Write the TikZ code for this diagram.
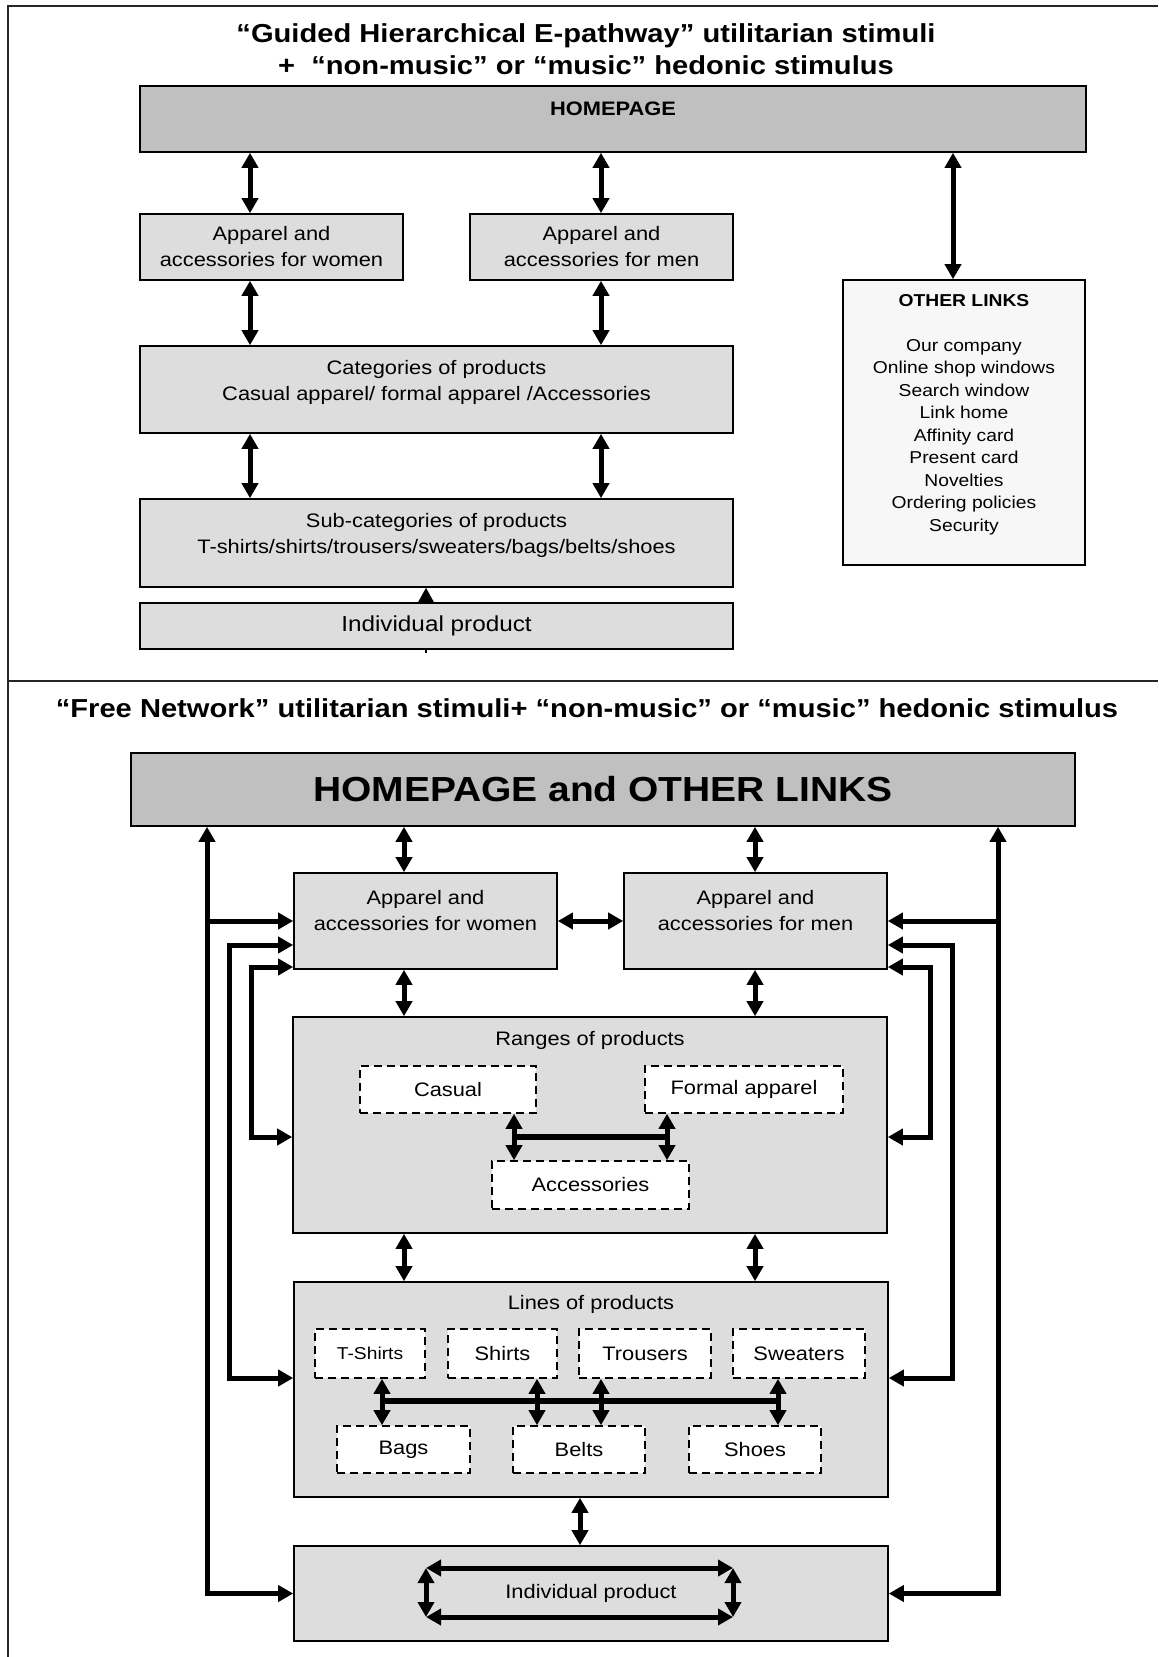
\documentclass[tikz,border=0pt]{standalone}
\usepackage{fontspec}
\setmainfont{Liberation Sans}[FakeStretch=1.12]
\usepackage{tikz}
\usetikzlibrary{arrows.meta}
\pgfdeclarelayer{bg}
\pgfsetlayers{bg,main}
\definecolor{homegray}{HTML}{C0C0C0}
\definecolor{boxgray}{HTML}{DDDDDD}
\definecolor{linkgray}{HTML}{F7F7F7}
\newcommand{\txtbody}{\fontsize{9.75}{13}\selectfont}
\newcommand{\txttitle}{\bfseries\fontsize{13}{16}\selectfont}
\newcommand{\txtlink}{\fontsize{8.6}{11.25}\selectfont}
\newcommand{\txtsmall}{\fontsize{8.6}{10}\selectfont}
\newcommand{\txtind}{\fontsize{10.85}{13}\selectfont}
\newcommand{\txthuge}{\bfseries\fontsize{17.4}{20}\selectfont}

\begin{document}
\begin{tikzpicture}[x=0.5pt, y=-0.5pt,
    every node/.style={font=\txtbody},
    box/.style={draw=black, line width=0.8pt, fill=boxgray, inner sep=0pt, align=center},
    homebox/.style={box, fill=homegray},
    dbox/.style={box, fill=white, dash pattern=on 4pt off 2.5pt},
    arr/.style={line width=2.5pt, arrows={Triangle[length=7.5pt,width=8pt]-Triangle[length=7.5pt,width=8pt]}},
    sgl/.style={line width=2.5pt, arrows={-Triangle[length=7.5pt,width=8pt]}},
    linkbar/.style={line width=3.2pt},
    pageline/.style={line width=0.9pt, draw=black!85}]
    \useasboundingbox (0,0) rectangle (1158,1657);
    \draw[pageline] (8,1657) -- (8,6) -- (1158,6);
    \draw[pageline] (8,681) -- (1158,681);

    \coordinate (c1) at (250,0);
    \coordinate (c2) at (601,0);
    \coordinate (c3) at (953,0);
    \coordinate (c4) at (426,0);
    \coordinate (stub) at (426,653);

    \node[font=\txttitle, align=center] (title1) at (586,49) {“Guided Hierarchical E-pathway” utilitarian stimuli\\+\ \ “non-music” or “music” hedonic stimulus};
    \node[homebox, minimum width=473pt, minimum height=33pt, label={[font=\bfseries\txtbody, yshift=5pt]center:HOMEPAGE}] (home1) at (613,119) {};
    \node[box, minimum width=131.5pt, minimum height=33pt] (women1) at (271.5,247) {Apparel and\\accessories for women};
    \node[box, minimum width=131.5pt, minimum height=33pt] (men1) at (601.5,247) {Apparel and\\accessories for men};
    \node[box, fill=linkgray, minimum width=121pt, minimum height=142.5pt, label={[font=\txtlink, align=center, yshift=4pt]center:{\textbf{OTHER LINKS}\\[11.25pt]Our company\\Online shop windows\\Search window\\Link home\\Affinity card\\Present card\\Novelties\\Ordering policies\\Security}}] (links1) at (964,422.5) {};
    \node[box, minimum width=296.5pt, minimum height=43.5pt, label={[align=center, yshift=3.75pt]center:{Categories of products\\Casual apparel/ formal apparel /Accessories}}] (cat1) at (436.5,389.5) {};
    \node[box, minimum width=296.5pt, minimum height=44pt, label={[align=center, yshift=3.75pt]center:{Sub-categories of products\\T-shirts/shirts/trousers/sweaters/bags/belts/shoes}}] (sub1) at (436.5,543) {};
    \node[box, font=\txtind, minimum width=296.5pt, minimum height=23pt] (ind1) at (436.5,626) {Individual product};

    \draw[arr] (c1 |- home1.south) -- (c1 |- women1.north);
    \draw[arr] (c2 |- home1.south) -- (c2 |- men1.north);
    \draw[arr] (c3 |- home1.south) -- (c3 |- links1.north);
    \draw[arr] (c1 |- women1.south) -- (c1 |- cat1.north);
    \draw[arr] (c2 |- men1.south) -- (c2 |- cat1.north);
    \draw[arr] (c1 |- cat1.south) -- (c1 |- sub1.north);
    \draw[arr] (c2 |- cat1.south) -- (c2 |- sub1.north);
    \begin{pgfonlayer}{bg}
        \draw[sgl, line width=1pt] (stub) -- (c4 |- sub1.south);
    \end{pgfonlayer}

    \coordinate (d1) at (404,0);
    \coordinate (d2) at (755,0);
    \coordinate (d3) at (580,0);
    \coordinate (e1) at (514,0);
    \coordinate (e2) at (667,0);
    \coordinate (f1) at (382,0);
    \coordinate (f2) at (537,0);
    \coordinate (f3) at (601,0);
    \coordinate (f4) at (778,0);
    \coordinate (lx1) at (207,0);
    \coordinate (lx2) at (229,0);
    \coordinate (lx3) at (251,0);
    \coordinate (rx1) at (998,0);
    \coordinate (rx2) at (952,0);
    \coordinate (rx3) at (930,0);
    \coordinate (rbar) at (0,1137);
    \coordinate (lbar) at (0,1401);

    \node[font=\txttitle] (title2) at (587,708) {“Free Network” utilitarian stimuli+ “non-music” or “music” hedonic stimulus};
    \node[homebox, font=\txthuge, minimum width=472pt, minimum height=36.5pt] (home2) at (603,789.5) {HOMEPAGE and OTHER LINKS};
    \node[box, minimum width=131.5pt, minimum height=48pt, label={[align=center, yshift=5.25pt]center:{Apparel and\\accessories for women}}] (women2) at (425.5,921) {};
    \node[box, minimum width=131.5pt, minimum height=48pt, label={[align=center, yshift=5.25pt]center:{Apparel and\\accessories for men}}] (men2) at (755.5,921) {};
    \node[box, minimum width=297pt, minimum height=108pt, label={[anchor=center, yshift=-12pt]north:Ranges of products}] (ranges) at (590,1125) {};
    \node[dbox, minimum width=88pt, minimum height=23.5pt] (casual) at (448,1089.5) {Casual};
    \node[dbox, minimum width=99pt, minimum height=23.5pt] (formal) at (744,1089.5) {Formal apparel};
    \node[dbox, minimum width=98.5pt, minimum height=24pt] (acc) at (590.5,1185) {Accessories};
    \node[box, minimum width=297pt, minimum height=107.5pt, label={[anchor=center, yshift=-11.5pt]north:Lines of products}] (lines) at (591,1389.5) {};
    \node[dbox, font=\txtsmall, minimum width=55pt, minimum height=24.5pt] (tshirt) at (370,1353.5) {T-Shirts};
    \node[dbox, minimum width=54.5pt, minimum height=24.5pt] (shirts) at (502.5,1353.5) {Shirts};
    \node[dbox, minimum width=66pt, minimum height=24.5pt] (trousers) at (645,1353.5) {Trousers};
    \node[dbox, minimum width=66pt, minimum height=24.5pt] (sweaters) at (799,1353.5) {Sweaters};
    \node[dbox, minimum width=66.5pt, minimum height=23.5pt] (bags) at (403.5,1449.5) {Bags};
    \node[dbox, minimum width=66pt, minimum height=23.5pt] (belts) at (579,1449.5) {Belts};
    \node[dbox, minimum width=66pt, minimum height=23.5pt] (shoes) at (755,1449.5) {Shoes};
    \node[box, minimum width=297pt, minimum height=47.5pt] (ind2) at (591,1593.5) {Individual product};

    \draw[arr] (d1 |- home2.south) -- (d1 |- women2.north);
    \draw[arr] (d2 |- home2.south) -- (d2 |- men2.north);
    \draw[arr] (women2) -- (men2);
    \draw[arr] (d1 |- women2.south) -- (d1 |- ranges.north);
    \draw[arr] (d2 |- men2.south) -- (d2 |- ranges.north);
    \draw[arr] (d1 |- ranges.south) -- (d1 |- lines.north);
    \draw[arr] (d2 |- ranges.south) -- (d2 |- lines.north);
    \draw[arr] (d3 |- lines.south) -- (d3 |- ind2.north);

    \draw[arr] (e1 |- casual.south) -- (e1 |- acc.north);
    \draw[arr] (e2 |- formal.south) -- (e2 |- acc.north);
    \draw[linkbar] (e1 |- rbar) -- (e2 |- rbar);

    \draw[arr] (f1 |- tshirt.south) -- (f1 |- bags.north);
    \draw[arr] (f2 |- shirts.south) -- (f2 |- belts.north);
    \draw[arr] (f3 |- trousers.south) -- (f3 |- belts.north);
    \draw[arr] (f4 |- sweaters.south) -- (f4 |- shoes.north);
    \draw[linkbar] (f1 |- lbar) -- (f4 |- lbar);

    \coordinate (ptl) at (426,1568);
    \coordinate (ptr) at (733,1568);
    \coordinate (pbl) at (426,1617);
    \coordinate (pbr) at (733,1617);
    \draw[arr] (ptl) -- (ptr);
    \draw[arr] (pbl) -- (pbr);
    \draw[arr] (ptl) -- (pbl);
    \draw[arr] (ptr) -- (pbr);

    \draw[arr] (ind2.west) -| (lx1 |- home2.south);
    \draw[sgl] (lx1 |- women2.west) -- (women2.west);
    \draw[arr] ([yshift=-12pt]women2.west) -| (lx2 |- lines.north) |- ([yshift=5.75pt]lines.west);
    \draw[arr] ([yshift=-23pt]women2.west) -| (lx3 |- ranges.north) |- ([yshift=-6pt]ranges.west);
    \draw[arr] (ind2.east) -| (rx1 |- home2.south);
    \draw[sgl] (rx1 |- men2.east) -- (men2.east);
    \draw[arr] ([yshift=-12pt]men2.east) -| (rx2 |- lines.north) |- ([yshift=5.75pt]lines.east);
    \draw[arr] ([yshift=-23pt]men2.east) -| (rx3 |- ranges.north) |- ([yshift=-6pt]ranges.east);
\end{tikzpicture}
\end{document}
